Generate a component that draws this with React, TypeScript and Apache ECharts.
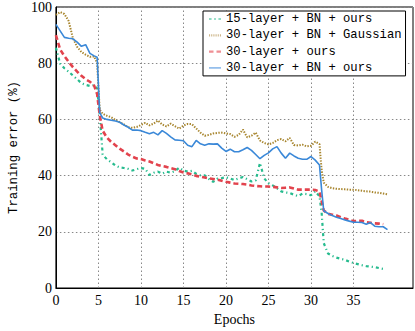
import React, { useEffect, useRef } from "react";
import * as echarts from "echarts";

const epochs = [0,0.5,1,1.5,2,2.5,3,3.5,4,4.5,4.85,5.15,5.5,6,6.5,7,7.5,8,8.5,9,9.5,10,10.5,11,11.5,12,12.5,13,13.5,14,14.5,15,15.5,16,16.5,17,17.5,18,18.5,19,19.5,20,20.5,21,21.5,22,22.5,23,23.5,24,24.5,25,25.5,26,26.5,27,27.5,28,28.5,29,29.5,30,30.5,31,31.25,31.5,32,32.5,33,33.5,34,34.5,35,35.5,36,36.5,37,37.5,38,38.5,39];

const layer15BnOurs = [85.5,79.8,78.2,77.0,75.6,74.3,72.9,72.3,71.9,72.2,71.0,62.0,
47.5,45.8,44.8,43.6,42.9,42.7,42.4,41.8,42.3,42.7,42.4,40.2,41.0,41.4,40.7,41.4,41.0,41.6,42.8,41.8,41.4,41.7,40.6,40.1,40.1,38.8,37.8,38.9,39.1,39.4,39.0,38.4,39.0,39.5,38.7,37.9,38.3,44.5,39.0,37.3,36.5,35.5,34.4,34.0,33.8,33.2,32.7,33.6,33.4,33.0,34.4,32.7,
27.0,16.0,12.3,11.4,10.8,10.4,10.0,9.4,8.9,8.5,8.1,7.8,7.6,7.4,7.1,6.8,null];

const layer30BnGaussian = [97.2,98.2,97.5,95.0,88.9,85.8,84.0,83.0,82.3,82.4,80.0,63.5,
62.0,61.3,60.8,59.8,59.0,58.2,57.2,57.0,57.3,58.0,58.8,57.9,58.5,59.6,58.2,57.5,58.5,57.6,56.7,57.8,58.4,58.3,56.8,55.3,54.2,54.5,55.0,55.2,55.3,55.0,54.8,53.8,54.5,56.4,53.6,54.2,55.3,52.5,51.6,51.1,51.6,52.6,53.0,52.2,53.4,50.9,50.7,51.0,50.4,50.6,52.1,51.2,
42.0,37.5,36.0,35.5,35.3,35.2,35.1,35.0,35.0,34.8,34.6,34.4,34.3,34.0,33.9,33.6,33.3];

const layer30Ours = [90.0,84.9,82.5,80.5,78.6,77.0,75.5,74.3,73.4,72.0,69.0,61.5,
56.0,53.5,52.0,50.8,49.6,48.6,47.5,46.7,46.1,45.9,45.4,45.0,44.4,43.8,43.4,43.1,42.7,42.3,41.6,41.1,40.8,40.4,39.9,39.6,39.3,39.0,38.8,38.6,38.2,37.8,37.5,37.2,37.1,37.0,36.8,36.5,36.3,36.2,36.1,36.1,36.0,35.8,35.6,35.7,35.8,35.4,35.0,35.0,35.0,35.0,34.9,34.3,
31.0,27.6,26.4,26.1,25.8,25.2,24.7,24.3,23.8,23.9,23.9,23.4,23.2,23.0,22.9,22.7,null];

const layer30BnOurs = [93.8,91.5,89.2,88.9,88.7,87.5,86.0,86.6,83.5,82.6,82.1,62.4,
60.5,60.0,59.7,59.4,59.0,58.0,57.2,56.2,56.2,56.0,55.4,54.9,55.4,54.5,56.0,55.0,53.8,52.7,52.6,52.4,50.8,50.3,52.5,51.3,50.8,51.3,51.2,51.3,49.8,48.6,49.4,48.5,48.5,49.2,50.0,49.0,47.5,46.0,47.2,48.1,49.5,50.3,48.0,46.2,48.0,47.0,46.2,45.8,45.8,46.8,45.5,43.8,
35.0,27.5,26.5,25.8,25.2,24.7,24.2,23.8,23.4,23.4,23.3,22.7,23.3,22.0,21.8,21.8,20.8];

const seriesNames = ["15-layer + BN + ours", "30-layer + BN + Gaussian", "30-layer + ours", "30-layer + BN + ours"];
const xTicks = [0, 5, 10, 15, 20, 25, 30, 35];

const pair = (vals: (number | null)[]) => epochs.map((e, i) => [e, vals[i]]);

export default function App() {
  const ref = useRef<HTMLDivElement>(null);
  useEffect(() => {
    if (!ref.current) return;
    const chart = echarts.init(ref.current, null, { renderer: "svg" });
    const serif = "Liberation Serif";
    const mono = "Liberation Mono";
    const styles = [
      { color: "#26bb8e", width: 2.2, type: [3, 3, 1.2, 3] },
      { color: "#a8862f", width: 2, type: [1.4, 1.4] },
      { color: "#e2434d", width: 2.6, type: [5, 3] },
      { color: "#3a88d8", width: 1.6, type: "solid" },
    ];
    const icons = [
      "path://M0,5h2.4v2h-2.4z M4.8,5h1.6v2h-1.6z M8.8,5h2.4v2h-2.4z",
      "path://M0,5h1v2h-1z M2,5h1v2h-1z M4,5h1v2h-1z M6,5h1v2h-1z M8,5h1v2h-1z M10,5h1v2h-1z",
      "path://M0,5h4.5v2.2h-4.5z M7.5,5h4.5v2.2h-4.5z",
      "path://M0,5h12v1.6h-12z",
    ];
    const legendColors = ["#8fdcc4", "#cdb68a", "#ef8f94", "#8ab8ea"];
    const all = [layer15BnOurs, layer30BnGaussian, layer30Ours, layer30BnOurs];
    const gridStyle = { color: "#888", type: [1.5, 2.5], width: 1 };
    chart.setOption({
      animation: false,
      backgroundColor: "#fff",
      grid: { left: 42, right: 2, top: 6, bottom: 32, show: true, borderColor: "#000", borderWidth: 1, backgroundColor: "transparent" },
      legend: {
        orient: "vertical",
        left: 203,
        top: 11,
        padding: [2, 4, 2, 6],
        itemGap: 4.3,
        itemWidth: 12,
        itemHeight: 12,
        itemTextGap: 10,
        borderColor: "#000",
        borderWidth: 1,
        borderRadius: 0,
        backgroundColor: "#fff",
        textStyle: { fontFamily: mono, fontSize: 12.2, color: "#000", lineHeight: 12 },
        data: seriesNames.map((n, i) => ({ name: n, icon: icons[i], itemStyle: { color: legendColors[i] } })),
      },
      xAxis: {
        type: "value",
        min: 0,
        max: 42,
        interval: 5,
        name: "Epochs",
        nameLocation: "middle",
        nameGap: 24,
        nameTextStyle: { fontFamily: serif, fontSize: 14, color: "#000" },
        axisLine: { show: true, lineStyle: { color: "#000", width: 1 } },
        axisTick: { show: false, customValues: xTicks },
        axisLabel: { customValues: xTicks, fontFamily: serif, fontSize: 14, color: "#000", margin: 5 },
        splitLine: { show: false },
      },
      yAxis: {
        type: "value",
        min: 0,
        max: 100,
        interval: 20,
        name: "Training error (%)",
        nameLocation: "middle",
        nameGap: 27,
        nameTextStyle: { fontFamily: mono, fontSize: 12.3, color: "#000" },
        axisLine: { show: true, lineStyle: { color: "#000", width: 1 } },
        axisTick: { show: false },
        axisLabel: { fontFamily: serif, fontSize: 14, color: "#000", margin: 4 },
        splitLine: { show: true, lineStyle: gridStyle },
      },
      series: all.map((vals, i) => ({
        name: seriesNames[i],
        type: "line",
        symbol: "none",
        showSymbol: false,
        connectNulls: false,
        data: pair(vals),
        lineStyle: styles[i],
        itemStyle: { color: styles[i].color },
        z: 2 + i,
        markLine: i === 0 ? {
          silent: true,
          symbol: "none",
          label: { show: false },
          lineStyle: gridStyle,
          z: 1,
          data: xTicks.slice(1).map((v) => ({ xAxis: v })),
        } : undefined,
      })),
    });
    return () => chart.dispose();
  }, []);
  return <div ref={ref} style={{ position: "fixed", left: 0, top: 0, width: 415, height: 331 }} />;
}
